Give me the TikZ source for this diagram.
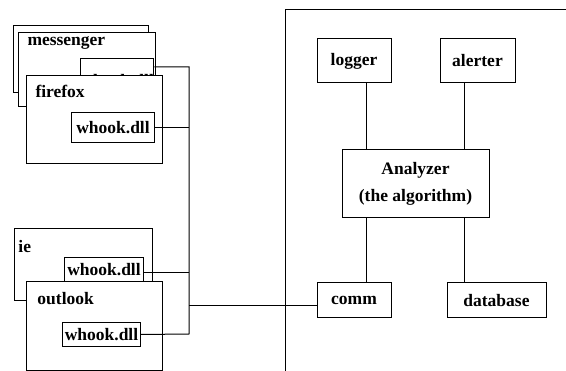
\documentclass[tikz,border=0pt]{standalone}
\usepackage{fontspec}
\setmainfont{Liberation Serif}

\begin{document}
\begin{tikzpicture}[x=1pt,y=-1pt,line width=1pt,
  font=\fontsize{17.5}{27}\selectfont\bfseries,
  win/.style={draw,fill=white,anchor=north west,inner sep=0pt},
  hook/.style={draw,fill=white,anchor=north west,inner sep=0pt,minimum height=30pt},
  part/.style={draw,fill=white,inner sep=0pt,align=center},
  lbl/.style={anchor=base west,inner sep=0pt}]
  \useasboundingbox (0,0) rectangle (566,371);

  % hooked processes
  \node[win,minimum width=135pt,minimum height=67pt] (msgback) at (13,25) {};
  \node[win,minimum width=137pt,minimum height=74pt] (msg) at (18,32) {};
  \node[lbl] (msglbl) at (27,46) {messenger};
  \node[hook,minimum width=68pt,text height=28pt,text depth=9pt] (msgwhook) at (80,58) {whook.dll};
  \node[win,minimum width=136pt,minimum height=88pt] (ff) at (26,75) {};
  \node[lbl] (fflbl) at (35,98) {firefox};
  \node[hook,minimum width=83pt] (ffwhook) at (71,112) {whook.dll};

  \node[win,minimum width=138pt,minimum height=72pt] (ie) at (14,228) {};
  \node[lbl] (ielbl) at (18,253) {ie};
  \node[hook,minimum width=79pt,text height=16pt,text depth=10pt] (iewhook) at (64,257) {whook.dll};
  \node[win,minimum width=136pt,minimum height=89pt] (outlook) at (26,281) {};
  \node[lbl] (outlbl) at (37,305) {outlook};
  \node[hook,minimum width=78pt,minimum height=24pt] (outwhook) at (62,322) {whook.dll};

  \coordinate (bustop) at (189,67);
  \coordinate (busmid) at (189,306);
  \coordinate (busbot) at (189,334);

  \draw (msgwhook.north east |- bustop) -- (bustop) -- (busbot -| bustop) -- (outwhook.east);
  \draw (ffwhook.east) -- (ffwhook.east -| bustop);
  \draw (iewhook.east) -- (iewhook.east -| bustop);

  % analyzer side
  \draw (285,371) -- (285,10) -- (566,10);

  \node[part,minimum width=74pt,minimum height=44pt] (logger) at (354,61) {logger};
  \node[part,minimum width=75pt,minimum height=44pt] (alerter) at (477.5,61) {alerter};
  \node[part,minimum width=147pt,minimum height=68pt] (analyzer) at (415.5,184) {Analyzer\\(the algorithm)};
  \node[part,minimum width=74pt,minimum height=35pt] (comm) at (354,300.5) {comm};
  \node[part,minimum width=99pt,minimum height=35pt] (database) at (496.5,300.5) {database};

  \draw ([xshift=25pt]analyzer.north west) -- ([xshift=25pt]analyzer.north west |- logger.south);
  \draw ([xshift=-25pt]analyzer.north east) -- ([xshift=-25pt]analyzer.north east |- alerter.south);
  \draw ([xshift=25pt]analyzer.south west) -- ([xshift=25pt]analyzer.south west |- comm.north);
  \draw ([xshift=-25pt]analyzer.south east) -- ([xshift=-25pt]analyzer.south east |- database.north);

  \draw (busmid) -- (busmid -| comm.west);

\end{tikzpicture}
\end{document}
